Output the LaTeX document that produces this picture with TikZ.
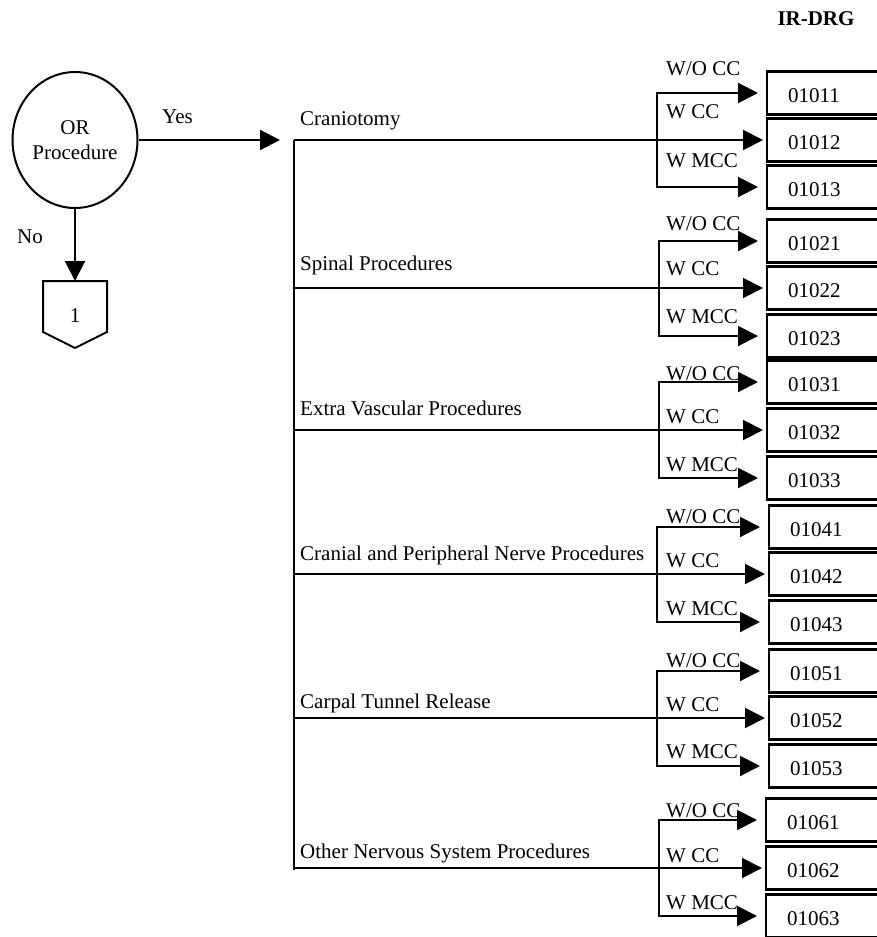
\documentclass[tikz,border=0pt]{standalone}
\usepackage{fontspec}
\setmainfont{Liberation Serif}
\usetikzlibrary{arrows.meta,shapes.geometric}
\begin{document}
\begin{tikzpicture}[x=1pt,y=-1pt,
  line/.style={line width=2pt},
  arr/.style={line width=2pt,-{Triangle[length=20pt,width=20pt]}},
  boxline/.style={line width=2.6pt},
  txt/.style={anchor=base west,inner sep=0pt,font=\fontsize{21}{25}\selectfont},
  ctxt/.style={anchor=base,inner sep=0pt,font=\fontsize{21}{25}\selectfont},
  drg/.style={anchor=west,minimum height=43pt,text width=200pt,
    inner xsep=21pt,text height=18pt,text depth=0pt,align=left,font=\fontsize{21}{25}\selectfont}]
\useasboundingbox (0,0) rectangle (877,937);
\clip (0,0) rectangle (877,937);

% header
\node[ctxt,font=\fontsize{21}{25}\selectfont\bfseries] (hdr) at (816,25) {IR-DRG};

% decision
\node[draw,ellipse,line width=2pt,minimum width=125pt,minimum height=136pt,inner sep=0pt,
  align=center,font=\fontsize{21}{25}\selectfont] (or) at (75,140) {OR\\Procedure};
\node[txt] (yes) at (162,123) {Yes};
\node[txt] (no) at (17,243) {No};

% off-page connector
\coordinate (offtop) at (75,281);
\draw[line] (43,281) -- (107,281) -- (107,332) -- (75,348) -- (43,332) -- cycle;
\node[ctxt] (one) at (75,322) {1};
\draw[arr] (or.south) -- (offtop);

% trunk
\coordinate (t1) at (294,140);
\coordinate (tend) at (294,870);
\draw[line] (t1) -- (tend);
\draw[arr,shorten >=14pt] (or.east) -- (t1);

\foreach \g/\ya/\ym/\yc/\xs/\bx/\la/\lb/\lc/\ty/\pname in {
  1/93/140/187/657/767/75/118/167/125/{Craniotomy},
  2/241/288/336/659/767/230/275/323/270/{Spinal Procedures},
  3/382/430/478/659/767/380/423/471/415/{Extra Vascular Procedures},
  4/527/574/622/657/769/523/567/615/560/{Cranial and Peripheral Nerve Procedures},
  5/671/718/766/657/769/667/711/758/708/{Carpal Tunnel Release},
  6/820/868/916/659/766/817/862/909/858/{Other Nervous System Procedures}}{
  \coordinate (t\g) at (294,\ym);
  \coordinate (s\g) at (\xs,\ym);
  \node[txt] (p\g) at (300,\ty) {\pname};
  \foreach \k/\yy in {1/\ya,2/\ym,3/\yc}{
    \node[drg] (b\g\k) at (\bx,\yy) {010\g\k};
    \draw[boxline] ([xshift=150pt]b\g\k.north west) -- (b\g\k.north west)
      -- (b\g\k.south west) -- ([xshift=150pt]b\g\k.south west);
  }
  \draw[arr,shorten >=4pt] (t\g) -- (b\g2.west);
  \draw[arr,shorten >=9pt] (s\g) |- (b\g1.west);
  \draw[arr,shorten >=9pt] (s\g) |- (b\g3.west);
  \node[txt] (la\g) at (666,\la) {W/O CC};
  \node[txt] (lb\g) at (666,\lb) {W CC};
  \node[txt] (lc\g) at (666,\lc) {W MCC};
}
\end{tikzpicture}
\end{document}
